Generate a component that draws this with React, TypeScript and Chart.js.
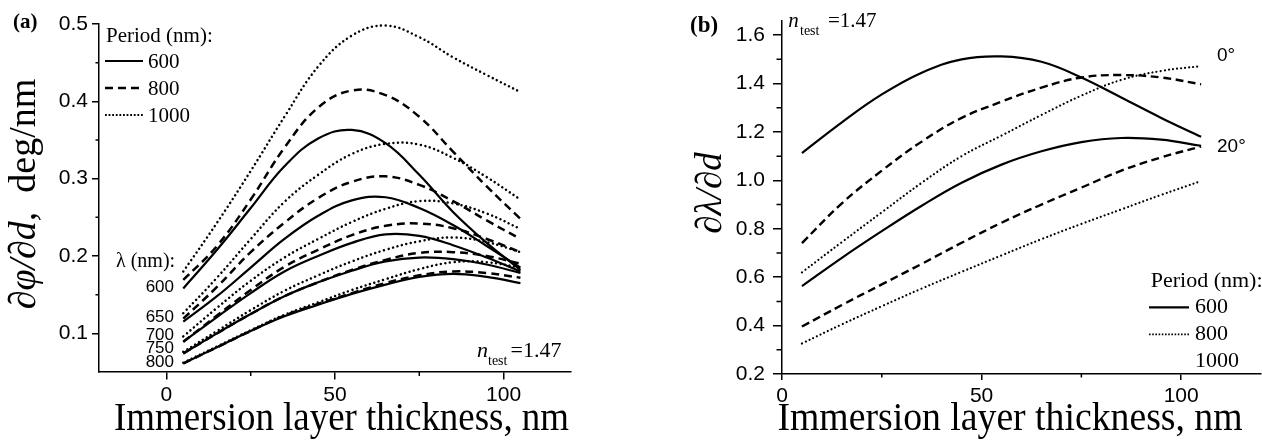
import React, { useEffect, useRef } from "react";
import { Chart, registerables } from "chart.js";
Chart.register(...registerables);

// ---------- data ----------
const thickness = [5, 15, 25, 35, 45, 55, 65, 75, 85, 95, 105];
const wavelengths = ["600", "650", "700", "750", "800"];
const periods = ["600", "800", "1000"];
const angles = ["0°", "20°"];

// (a) dφ/dd, deg/nm — one array per wavelength / period
const a600P600 = [0.158, 0.208, 0.262, 0.316, 0.352, 0.363, 0.346, 0.305, 0.257, 0.217, 0.182];
const a600P800 = [0.169, 0.213, 0.273, 0.34, 0.392, 0.414, 0.408, 0.38, 0.335, 0.29, 0.248];
const a600P1000 = [0.18, 0.243, 0.31, 0.38, 0.445, 0.485, 0.498, 0.483, 0.457, 0.434, 0.412];
const a650P600 = [0.115, 0.148, 0.185, 0.222, 0.252, 0.272, 0.276, 0.262, 0.24, 0.213, 0.185];
const a650P800 = [0.119, 0.16, 0.205, 0.243, 0.275, 0.296, 0.303, 0.292, 0.271, 0.246, 0.222];
const a650P1000 = [0.126, 0.172, 0.222, 0.27, 0.305, 0.332, 0.345, 0.344, 0.327, 0.302, 0.273];
const a700P600 = [0.089, 0.121, 0.152, 0.18, 0.2, 0.217, 0.228, 0.226, 0.214, 0.198, 0.18];
const a700P800 = [0.089, 0.123, 0.156, 0.186, 0.208, 0.227, 0.239, 0.242, 0.236, 0.222, 0.205];
const a700P1000 = [0.096, 0.133, 0.168, 0.198, 0.222, 0.244, 0.261, 0.271, 0.268, 0.255, 0.235];
const a750P600 = [0.074, 0.1, 0.125, 0.148, 0.166, 0.181, 0.193, 0.198, 0.196, 0.189, 0.178];
const a750P800 = [0.074, 0.1, 0.125, 0.148, 0.166, 0.182, 0.195, 0.204, 0.205, 0.2, 0.19];
const a750P1000 = [0.076, 0.103, 0.13, 0.155, 0.175, 0.193, 0.208, 0.219, 0.224, 0.218, 0.205];
const a800P600 = [0.061, 0.082, 0.103, 0.122, 0.137, 0.151, 0.163, 0.173, 0.177, 0.173, 0.165];
const a800P800 = [0.061, 0.082, 0.103, 0.123, 0.138, 0.152, 0.165, 0.175, 0.18, 0.178, 0.172];
const a800P1000 = [0.062, 0.083, 0.104, 0.124, 0.14, 0.156, 0.17, 0.183, 0.192, 0.192, 0.185];

// (b) dλ/dd
const b0P600 = [1.113, 1.24, 1.355, 1.445, 1.5, 1.512, 1.49, 1.425, 1.342, 1.258, 1.18];
const b0P800 = [0.741, 0.905, 1.04, 1.16, 1.258, 1.325, 1.383, 1.425, 1.435, 1.425, 1.397];
const b0P1000 = [0.62, 0.745, 0.868, 0.99, 1.1, 1.185, 1.27, 1.35, 1.415, 1.452, 1.472];
const b20P600 = [0.563, 0.68, 0.79, 0.895, 0.99, 1.065, 1.12, 1.158, 1.175, 1.168, 1.143];
const b20P800 = [0.396, 0.485, 0.57, 0.655, 0.742, 0.825, 0.9, 0.97, 1.04, 1.095, 1.14];
const b20P1000 = [0.326, 0.405, 0.48, 0.553, 0.622, 0.69, 0.757, 0.82, 0.88, 0.94, 0.997];

// ticks
const xTicks = [0, 50, 100];
const xMinor = [25, 75];
const yTicksA = [0.1, 0.2, 0.3, 0.4, 0.5];
const yMinorA = [0.15, 0.25, 0.35, 0.45];
const yTicksB = [0.2, 0.4, 0.6, 0.8, 1.0, 1.2, 1.4, 1.6];
const yMinorB = [0.3, 0.5, 0.7, 0.9, 1.1, 1.3, 1.5];

const seriesA = [
  { wl: "600", period: "600", values: a600P600 },
  { wl: "600", period: "800", values: a600P800 },
  { wl: "600", period: "1000", values: a600P1000 },
  { wl: "650", period: "600", values: a650P600 },
  { wl: "650", period: "800", values: a650P800 },
  { wl: "650", period: "1000", values: a650P1000 },
  { wl: "700", period: "600", values: a700P600 },
  { wl: "700", period: "800", values: a700P800 },
  { wl: "700", period: "1000", values: a700P1000 },
  { wl: "750", period: "600", values: a750P600 },
  { wl: "750", period: "800", values: a750P800 },
  { wl: "750", period: "1000", values: a750P1000 },
  { wl: "800", period: "600", values: a800P600 },
  { wl: "800", period: "800", values: a800P800 },
  { wl: "800", period: "1000", values: a800P1000 },
];
const seriesB = [
  { angle: "0°", period: "600", values: b0P600 },
  { angle: "0°", period: "800", values: b0P800 },
  { angle: "0°", period: "1000", values: b0P1000 },
  { angle: "20°", period: "600", values: b20P600 },
  { angle: "20°", period: "800", values: b20P800 },
  { angle: "20°", period: "1000", values: b20P1000 },
];

// ---------- styles ----------
const SERIF = '"Liberation Serif", "Times New Roman", serif';
const SANS = '"Liberation Sans", Arial, sans-serif';
type LS = { dash: number[]; w: number; cap: CanvasLineCap };
const styleA: Record<string, LS> = {
  "600": { dash: [], w: 2.2, cap: "butt" },
  "800": { dash: [8, 5], w: 2.5, cap: "butt" },
  "1000": { dash: [0.01, 4.6], w: 2.5, cap: "round" },
};
const styleB: Record<string, LS> = {
  "600": { dash: [], w: 2.2, cap: "butt" },
  "800": { dash: [8, 4.5], w: 2.4, cap: "butt" },
  "1000": { dash: [0.01, 4.1], w: 2.2, cap: "round" },
};

function text(ctx: CanvasRenderingContext2D, s: string, x: number, y: number, font: string, align: CanvasTextAlign = "left") {
  ctx.font = font;
  ctx.textAlign = align;
  ctx.textBaseline = "alphabetic";
  ctx.fillStyle = "#000";
  ctx.fillText(s, x, y);
}

function sample(ctx: CanvasRenderingContext2D, x1: number, x2: number, y: number, st: LS) {
  ctx.save();
  ctx.strokeStyle = "#000";
  ctx.lineWidth = st.w;
  ctx.lineCap = st.cap;
  ctx.setLineDash(st.dash);
  ctx.beginPath();
  ctx.moveTo(x1, y);
  ctx.lineTo(x2, y);
  ctx.stroke();
  ctx.restore();
}

function scaledCenter(ctx: CanvasRenderingContext2D, s: string, cx: number, y: number, font: string, sx: number) {
  ctx.save();
  ctx.translate(cx, y);
  ctx.scale(sx, 1);
  text(ctx, s, 0, 0, font, "center");
  ctx.restore();
}

function rotatedMixed(ctx: CanvasRenderingContext2D, parts: [string, string][], baseX: number, cy: number) {
  ctx.save();
  let total = 0;
  for (const [s, f] of parts) {
    ctx.font = f;
    total += ctx.measureText(s).width;
  }
  ctx.translate(baseX, cy);
  ctx.rotate(-Math.PI / 2);
  let x = -total / 2;
  for (const [s, f] of parts) {
    text(ctx, s, x, 0, f, "left");
    ctx.font = f;
    x += ctx.measureText(s).width;
  }
  ctx.restore();
}

function minorTicks(chart: any, xm: number[], ym: number[], lx: number, ly: number) {
  const ctx = chart.ctx as CanvasRenderingContext2D;
  const xs = chart.scales.x;
  const ys = chart.scales.y;
  const a = chart.chartArea;
  ctx.save();
  ctx.strokeStyle = "#000";
  ctx.lineWidth = 1.5;
  ctx.beginPath();
  for (const v of xm) {
    const px = xs.getPixelForValue(v);
    ctx.moveTo(px, a.bottom);
    ctx.lineTo(px, a.bottom + lx);
  }
  for (const v of ym) {
    const py = ys.getPixelForValue(v);
    ctx.moveTo(a.left, py);
    ctx.lineTo(a.left - ly, py);
  }
  ctx.stroke();
  ctx.restore();
}

function axisOpts(min: number, max: number, ticks: number[], fmt: (v: number) => string, tickLen: number, pad: number, fit: (s: any) => void) {
  return {
    type: "linear",
    min,
    max,
    afterBuildTicks: (s: any) => {
      s.ticks = ticks.map((v) => ({ value: v }));
    },
    afterFit: fit,
    ticks: {
      color: "#000",
      font: { family: SANS, size: 21 },
      padding: pad,
      maxRotation: 0,
      autoSkip: false,
      callback: (v: any) => fmt(Number(v)),
    },
    grid: {
      display: true,
      drawOnChartArea: false,
      drawTicks: true,
      tickLength: tickLen,
      tickWidth: 1.5,
      tickColor: "#000",
      color: "#000",
      lineWidth: 1.5,
    },
    border: { display: true, color: "#000", width: 1.5 },
  };
}

function lineDataset(label: string, values: number[], st: LS) {
  return {
    label,
    data: values.map((y, i) => ({ x: thickness[i], y })),
    borderColor: "#000",
    borderWidth: st.w,
    borderDash: st.dash,
    borderCapStyle: st.cap,
    pointRadius: 0,
    fill: false,
    tension: 0.4,
  };
}

function configA(): any {
  const annotate = {
    id: "annA",
    afterDraw(chart: any) {
      const ctx = chart.ctx as CanvasRenderingContext2D;
      minorTicks(chart, xMinor, yMinorA, 4, 3.5);
      text(ctx, "(a)", 13, 28, `bold 21px ${SERIF}`);
      // legend
      text(ctx, "Period (nm):", 106, 41.5, `21px ${SERIF}`);
      const legY = [61, 88, 115];
      periods.forEach((p, i) => {
        sample(ctx, 105, 143, legY[i], p === "1000" ? { dash: [1.8, 1.8], w: 1.9, cap: "butt" } : styleA[p]);
        text(ctx, p, 148, legY[i] + 7, `21px ${SERIF}`);
      });
      // wavelength labels
      text(ctx, "λ (nm):", 116, 266.5, `20px ${SERIF}`);
      const wlY = [291.7, 321.7, 340, 352.7, 366.7];
      wavelengths.forEach((w, i) => text(ctx, w, 174, wlY[i], `17px ${SANS}`, "right"));
      // n_test
      text(ctx, "n", 477, 356.5, `italic 22px ${SERIF}`);
      text(ctx, "test", 488, 365, `14px ${SERIF}`);
      text(ctx, "=1.47", 510.5, 356.5, `22px ${SERIF}`);
      // axis titles
      scaledCenter(ctx, "Immersion layer thickness, nm", 341.5, 429.5, `41px ${SERIF}`, 0.9);
      rotatedMixed(
        ctx,
        [
          ["∂φ/∂d,", `italic 38px ${SERIF}`],
          ["  deg/nm", `38px ${SERIF}`],
        ],
        35,
        194
      );
    },
  };
  return {
    type: "line",
    data: {
      datasets: seriesA.map((s) => lineDataset(`λ ${s.wl} nm, period ${s.period} nm`, s.values, styleA[s.period])),
    },
    options: {
      animation: false,
      responsive: false,
      maintainAspectRatio: false,
      events: [],
      layout: { padding: { left: 0, top: 24, right: 49, bottom: 0 } },
      plugins: { legend: { display: false }, tooltip: { enabled: false }, title: { display: false } },
      scales: {
        x: axisOpts(-20, 120, xTicks, (v) => String(v), 7.5, 3, (s: any) => { s.height = 75; }),
        y: axisOpts(0.05, 0.5, yTicksA, (v) => v.toFixed(1), 7, 4, (s: any) => { s.width = 99; }),
      },
    },
    plugins: [annotate],
  };
}

function configB(): any {
  const annotate = {
    id: "annB",
    afterDraw(chart: any) {
      const ctx = chart.ctx as CanvasRenderingContext2D;
      minorTicks(chart, xMinor, yMinorB, 3.5, 5.5);
      text(ctx, "(b)", 50, 31.5, `bold 23px ${SERIF}`);
      text(ctx, "n", 148.3, 26.7, `italic 21px ${SERIF}`);
      text(ctx, "test", 160, 35, `14px ${SERIF}`);
      text(ctx, "=1.47", 188, 26.7, `21px ${SERIF}`);
      text(ctx, angles[0], 577, 61, `19px ${SANS}`);
      text(ctx, angles[1], 577, 151.7, `19px ${SANS}`);
      // legend (as in original: 1000 has no sample)
      text(ctx, "Period (nm):", 510.7, 287.3, `22px ${SERIF}`);
      sample(ctx, 509, 549, 307.3, styleB["600"]);
      sample(ctx, 509, 549, 334.3, { dash: [1.6, 1.6], w: 1.8, cap: "butt" });
      text(ctx, periods[0], 555, 313.3, `22px ${SERIF}`);
      text(ctx, periods[1], 555, 340.3, `22px ${SERIF}`);
      text(ctx, periods[2], 555, 366.7, `22px ${SERIF}`);
      scaledCenter(ctx, "Immersion layer thickness, nm", 370, 430, `41px ${SERIF}`, 0.92);
      rotatedMixed(ctx, [["∂λ/∂d", `italic 37px ${SERIF}`]], 81, 193);
    },
  };
  return {
    type: "line",
    data: {
      datasets: seriesB.map((s) => lineDataset(`${s.angle}, period ${s.period} nm`, s.values, styleB[s.period])),
    },
    options: {
      animation: false,
      responsive: false,
      maintainAspectRatio: false,
      events: [],
      layout: { padding: { left: 0, top: 15, right: 1, bottom: 0 } },
      plugins: { legend: { display: false }, tooltip: { enabled: false }, title: { display: false } },
      scales: {
        x: axisOpts(0, 120, xTicks, (v) => String(v), 6, 4, (s: any) => { s.height = 73; }),
        y: axisOpts(0.2, 1.66, yTicksB, (v) => v.toFixed(1), 9, 8, (s: any) => { s.width = 142; }),
      },
    },
    plugins: [annotate],
  };
}

export default function App() {
  const refA = useRef<HTMLCanvasElement>(null);
  const refB = useRef<HTMLCanvasElement>(null);
  useEffect(() => {
    const ca = new Chart(refA.current as HTMLCanvasElement, configA());
    const cb = new Chart(refB.current as HTMLCanvasElement, configB());
    return () => {
      ca.destroy();
      cb.destroy();
    };
  }, []);
  return (
    <div style={{ position: "absolute", left: 0, top: 0, width: 1262, height: 447, background: "#fff", overflow: "hidden" }}>
      <canvas ref={refA} width={620} height={447} style={{ position: "absolute", left: 0, top: 0 }} />
      <canvas ref={refB} width={622} height={447} style={{ position: "absolute", left: 640, top: 0 }} />
    </div>
  );
}
